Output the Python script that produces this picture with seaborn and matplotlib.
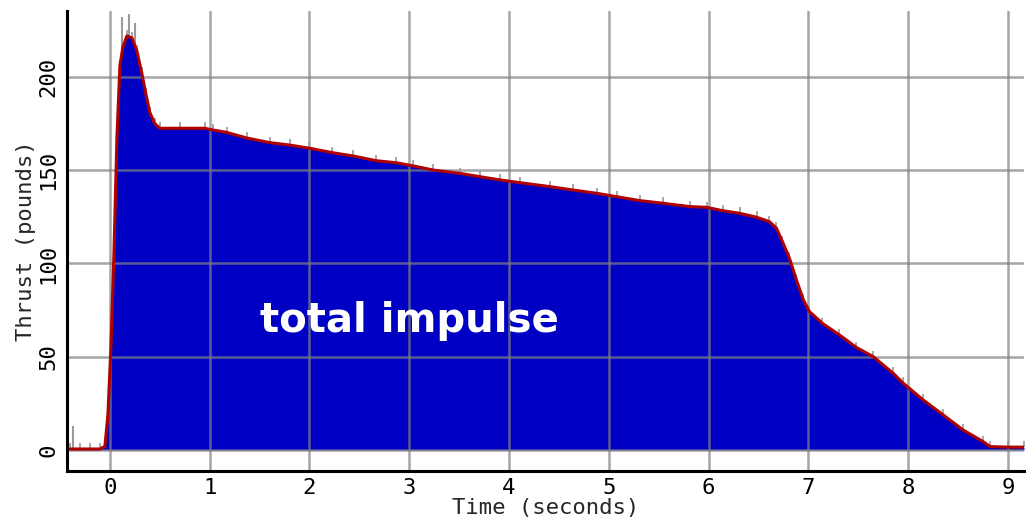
import seaborn as sns
import matplotlib.pyplot as plt
import pandas as pd

# --- thrust curve ---
time_s = [-0.40, -0.30, -0.20, -0.10, -0.05, -0.02, 0.01, 0.04, 0.07, 0.10,
          0.13, 0.17, 0.22, 0.27, 0.32, 0.36, 0.40, 0.45, 0.50, 0.70,
          0.95, 1.03, 1.17, 1.37, 1.60, 1.80, 2.00, 2.23, 2.44, 2.67,
          2.87, 3.04, 3.24, 3.51, 3.71, 3.91, 4.11, 4.41, 4.64, 4.88,
          5.08, 5.31, 5.54, 5.81, 5.98, 6.14, 6.31, 6.48, 6.61, 6.68,
          6.74, 6.81, 6.88, 6.95, 7.01, 7.14, 7.31, 7.48, 7.65, 7.85,
          7.95, 8.15, 8.35, 8.55, 8.75, 8.82, 9.00, 9.16]
thrust_lb = [0.5, 0.5, 0.5, 0.5, 2, 19, 55, 105, 167, 206,
             216, 222, 221, 214, 202, 191, 181, 175, 172.5, 172.5,
             172.5, 171.6, 170.3, 167.3, 164.8, 163.5, 161.8, 159.4, 157.6, 155.1,
             154.0, 152.3, 150.1, 148.3, 146.5, 144.8, 143.3, 141.2, 139.4, 137.6,
             135.8, 133.7, 132.3, 130.5, 130.1, 128.3, 126.9, 124.8, 122.4, 118.9,
             111.7, 102.8, 91.2, 80.4, 74.2, 67.9, 61.7, 55.0, 50.0, 41.1,
             35.8, 26.8, 18.8, 10.7, 4.5, 1.8, 1.5, 1.5]

# grey noise spikes around ignition / peak
spike_t = [-0.37, 0.12, 0.19, 0.25]
spike_top = [13, 232, 234, 229]

x_ticks = [0, 1, 2, 3, 4, 5, 6, 7, 8, 9]
y_ticks = [0, 50, 100, 150, 200]

df = pd.DataFrame({"time": time_s, "thrust": thrust_lb})

sns.set_theme(style="white")
plt.rcParams["font.family"] = ["DejaVu Sans Mono", "DejaVu Sans"]

fig = plt.figure(figsize=(10.26, 5.22), dpi=100)
ax = fig.add_axes([0.0653, 0.0977, 0.9327, 0.8813])

ax.vlines(spike_t, 0, spike_top, color="#9a9a9a", lw=1.5, zorder=1)
ax.fill_between(df["time"], df["thrust"], 0, color="#0000c4", lw=0, zorder=2)
ax.plot(df["time"], df["thrust"] + 1.5, "|", color="#9a9a9a", ms=4, mew=1.2, zorder=3)
sns.lineplot(data=df, x="time", y="thrust", color="#b00000", lw=2.2, ax=ax, zorder=4)

ax.set_xlim(-0.43, 9.16)
ax.set_ylim(-11.3, 235.4)
ax.set_xticks(x_ticks)
ax.set_yticks(y_ticks)
ax.grid(True, color="#808080", lw=1.8, alpha=0.7)
ax.set_axisbelow(False)
for gl in ax.get_xgridlines() + ax.get_ygridlines():
    gl.set_zorder(5)

ax.tick_params(axis="both", length=0, labelsize=16, colors="black")
ax.tick_params(axis="x", pad=5)
ax.tick_params(axis="y", pad=6, labelrotation=90)
for lbl in ax.get_yticklabels():
    lbl.set_va("center")

ax.set_xlabel("Time (seconds)", fontsize=16, labelpad=0)
ax.set_ylabel("Thrust (pounds)", fontsize=16, labelpad=2)

for side in ["top", "right"]:
    ax.spines[side].set_visible(False)
for side in ["left", "bottom"]:
    ax.spines[side].set_color("black")
    ax.spines[side].set_linewidth(2.2)
    ax.spines[side].set_zorder(6)

ax.text(3.0, 69, "total impulse", color="white", fontsize=29, fontweight="bold",
        family="DejaVu Sans", ha="center", va="center", zorder=7)

fig.savefig("out.png", dpi=100)
